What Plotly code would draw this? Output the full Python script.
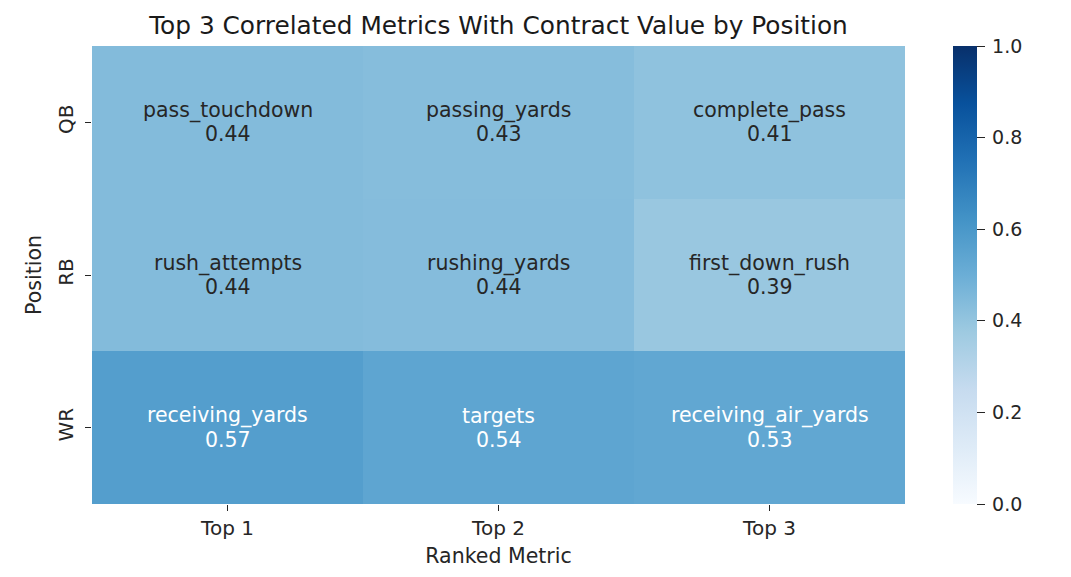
import plotly.graph_objects as go

positions = ["QB", "RB", "WR"]
ranks = ["Top 1", "Top 2", "Top 3"]
metric_names = [
    ["pass_touchdown", "passing_yards", "complete_pass"],
    ["rush_attempts", "rushing_yards", "first_down_rush"],
    ["receiving_yards", "targets", "receiving_air_yards"],
]
corr_values = [
    [0.441, 0.434, 0.412],
    [0.440, 0.436, 0.388],
    [0.570, 0.540, 0.530],
]
cbar_ticks = [0.0, 0.2, 0.4, 0.6, 0.8, 1.0]

FONT = "DejaVu Sans"
TXT = "#262626"

fig = go.Figure()
fig.add_trace(go.Heatmap(
    z=corr_values,
    x=ranks,
    y=positions,
    zmin=0, zmax=1,
    colorscale="Blues",
    hoverinfo="skip",
    xgap=0, ygap=0,
    colorbar=dict(
        x=1.059, xanchor="left", xpad=0,
        y=0.5, yanchor="middle", ypad=0,
        len=1, lenmode="fraction",
        thickness=24,
        outlinewidth=0,
        tickvals=cbar_ticks,
        ticktext=["\u2009" + f"{t:.1f}" for t in cbar_ticks],
        ticks="outside", ticklen=8, tickwidth=1.2, tickcolor=TXT,
        tickfont=dict(family=FONT, size=19, color=TXT),
    ),
))

for i, pos in enumerate(positions):
    for j, rk in enumerate(ranks):
        v = corr_values[i][j]
        color = "white" if v > 0.5 else TXT
        fig.add_annotation(
            x=rk, y=pos, text=metric_names[i][j], showarrow=False,
            font=dict(family=FONT, size=20.5, color=color), yshift=12,
        )
        fig.add_annotation(
            x=rk, y=pos, text=f"{v:.2f}", showarrow=False,
            font=dict(family=FONT, size=20.5, color=color), yshift=-12,
        )

fig.update_layout(
    width=1063, height=569,
    margin=dict(l=84, r=166, t=38, b=73),
    paper_bgcolor="white",
    plot_bgcolor="white",
    title=dict(
        text="Top 3 Correlated Metrics With Contract Value by Position",
        x=(84 + 897) / 2 / 1063, xanchor="center",
        y=1 - 17 / 569, yanchor="middle",
        font=dict(family=FONT, size=24.8, color="#1a1a1a"),
    ),
    font=dict(family=FONT, color=TXT),
)

fig.update_xaxes(
    title=dict(text="Ranked Metric", font=dict(family=FONT, size=20.5, color=TXT), standoff=9),
    tickfont=dict(family=FONT, size=20, color=TXT),
    ticks="outside", ticklen=6, tickwidth=1.2, tickcolor=TXT,
    showgrid=False, zeroline=False, showline=False,
)
fig.update_yaxes(
    title=dict(text="Position", font=dict(family=FONT, size=20.5, color=TXT), standoff=6),
    tickfont=dict(family=FONT, size=20, color=TXT),
    tickangle=-90,
    ticklabelstandoff=4,
    autorange="reversed",
    ticks="outside", ticklen=6, tickwidth=1.2, tickcolor=TXT,
    showgrid=False, zeroline=False, showline=False,
)

fig.write_html("out.html")
